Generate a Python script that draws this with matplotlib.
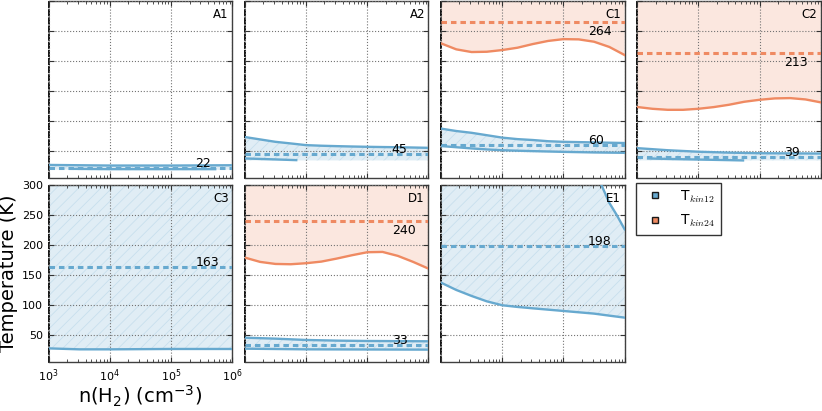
import matplotlib
matplotlib.use("Agg")
import matplotlib.pyplot as plt
import matplotlib.ticker as tck
from matplotlib.lines import Line2D
from matplotlib.font_manager import FontProperties

# panel names and the numbers printed next to the dashed lines
panels = ['A1', 'A2', 'C1', 'C2', 'C3', 'D1', 'E1']
tkin12 = [22, 45, 60, 39, 163, 33, 198]
tkin24 = [None, None, 264, 213, None, 240, None]

# log10 n(H2) grid used for most curves
lx = [3.0, 3.25, 3.5, 3.75, 4.0, 4.25, 4.5, 4.75, 5.0, 5.25, 5.5, 5.75, 6.0]

# A1
a1_up_x = [3.0, 4.0, 5.0, 6.0]
a1_up = [26.5, 25.5, 25.5, 26.0]
a1_lo_x = [3.36, 4.0, 5.0, 5.72]
a1_lo = [20.0, 19.5, 19.5, 19.5]
a1_floor = 18.5

# A2
a2_up = [73, 69, 65, 62.3, 59.5, 58.5, 57.8, 57.2, 56.7, 56.3, 56, 55.5, 55]
a2_lo_x = [3.0, 3.5, 3.84]
a2_lo = [37.3, 35.7, 34.5]
a2_floor = 34.0

# C1
c1_up = [87, 83, 80, 76, 72, 69.5, 68, 66, 65, 64.5, 64, 63.5, 63]
c1_lo = [58, 56, 54, 52.3, 51, 50.2, 49.5, 48.9, 48.3, 47.8, 47.3, 47, 46.7]
c1_or = [229, 219, 214.5, 215, 217.8, 221.7, 227.8, 233, 236, 235.6, 231.7, 223, 209.5]

# C2
c2_up_x = [3.0, 3.5, 4.0, 4.5, 5.0, 6.0]
c2_up = [54.5, 51, 48.5, 47, 46, 45.5]
c2_lo_x = [3.18, 3.5, 4.0, 4.5, 4.73]
c2_lo = [37.3, 36.5, 35.5, 34.5, 34.0]
c2_floor = 34.0
c2_or = [123, 120, 118.3, 118.3, 120, 122.8, 126.7, 131.7, 135, 137.3, 137.8, 135.6, 130.7]

# C3
c3_lo_x = [3.0, 3.5, 4.0, 5.0, 6.0]
c3_lo = [27.7, 26.1, 26.1, 26.7, 26.7]

# D1
d1_up_x = [3.0, 3.5, 4.0, 4.5, 5.0, 6.0]
d1_up = [45.5, 43.9, 41.7, 40.6, 40.0, 39.5]
d1_lo_x = [3.0, 4.0, 6.0]
d1_lo = [27.2, 26.1, 25.6]
d1_or = [178.9, 171.7, 168.3, 167.8, 169.5, 172.2, 177.2, 182.8, 187.8, 188.3, 181.7, 171.7, 160.5]

# E1
e1_lo = [137.2, 125, 115, 106, 99.5, 96.7, 94.4, 92.2, 90, 87.8, 85.6, 82.2, 78.9]
e1_up_x = [5.62, 5.75, 5.87, 6.0]
e1_up = [300, 270, 250, 226]

TOP = 300
BOTTOM = 5
blue = '#67a9cf'
orange = '#ef8a62'


def ex(v):
    return [10 ** x for x in v]


plt.rcParams['hatch.linewidth'] = 0.6

fig = plt.figure(figsize=(8.22, 4.11), dpi=100)
gs = fig.add_gridspec(2, 4, left=0.0592, right=0.9985, top=0.9983, bottom=0.1192,
                      wspace=0.068, hspace=0.0395)
axes = [fig.add_subplot(gs[i // 4, i % 4]) for i in range(7)]

# (upper boundary x, y), (lower boundary x, y) for the blue band
blue_bands = [
    ((a1_up_x, a1_up), ([3.0, 6.0], [a1_floor, a1_floor])),
    ((lx, a2_up), ([3.0, 6.0], [a2_floor, a2_floor])),
    ((lx, c1_up), (lx, c1_lo)),
    ((c2_up_x, c2_up), ([3.0, 6.0], [c2_floor, c2_floor])),
    (([3.0, 6.0], [TOP, TOP]), (c3_lo_x, c3_lo)),
    ((d1_up_x, d1_up), (d1_lo_x, d1_lo)),
    (([3.0] + e1_up_x, [TOP] + e1_up), (lx, e1_lo)),
]
blue_lines = [
    [(a1_up_x, a1_up), (a1_lo_x, a1_lo)],
    [(lx, a2_up), (a2_lo_x, a2_lo)],
    [(lx, c1_up), (lx, c1_lo)],
    [(c2_up_x, c2_up), (c2_lo_x, c2_lo)],
    [(c3_lo_x, c3_lo)],
    [(d1_up_x, d1_up), (d1_lo_x, d1_lo)],
    [(e1_up_x, e1_up), (lx, e1_lo)],
]
orange_lo = [None, None, c1_or, c2_or, None, d1_or, None]

for i, ax in enumerate(axes):
    (ux, uy), (lox, loy) = blue_bands[i]
    px = ex(list(lox) + list(ux)[::-1])
    py = list(loy) + list(uy)[::-1]
    ax.fill(px, py, facecolor=(0.404, 0.663, 0.812, 0.2),
            edgecolor=(0.404, 0.663, 0.812, 0.2), hatch='///', linewidth=0, zorder=1)
    for cx, cy in blue_lines[i]:
        ax.plot(ex(cx), cy, color=blue, lw=1.7, zorder=3)
    ax.axhline(tkin12[i], color=blue, lw=2.2, ls=(0, (1.8, 1.3)), zorder=4)
    ax.annotate(str(tkin12[i]), xy=(10 ** 5.4, tkin12[i]), xytext=(0, 0.8),
                textcoords='offset points', ha='left', va='baseline', fontsize=9, zorder=5)

    if orange_lo[i] is not None:
        px = ex(lx + [6.0, 3.0])
        py = orange_lo[i] + [TOP, TOP]
        ax.fill(px, py, facecolor=orange, alpha=0.2, linewidth=0, zorder=1)
        ax.plot(ex(lx), orange_lo[i], color=orange, lw=1.7, zorder=3)
        ax.axhline(tkin24[i], color=orange, lw=2.2, ls=(0, (1.8, 1.3)), zorder=4)
        ax.annotate(str(tkin24[i]), xy=(10 ** 5.4, tkin24[i]), xytext=(0, -2.2),
                    textcoords='offset points', ha='left', va='top', fontsize=9, zorder=5)

    ax.annotate(panels[i], xy=(1, 1), xycoords='axes fraction', xytext=(-2.5, -5),
                textcoords='offset points', ha='right', va='top', fontsize=8.5)

    ax.set_xscale('log')
    ax.set_xlim(1e3, 1e6)
    ax.set_ylim(BOTTOM, TOP)
    ax.set_yticks([50, 100, 150, 200, 250, 300])
    ax.xaxis.set_minor_locator(tck.LogLocator(base=10, subs=range(2, 10)))
    ax.xaxis.set_minor_formatter(tck.NullFormatter())
    ax.grid(True, which='major', ls=':', color='0.45', lw=0.8)
    ax.set_axisbelow(False)
    ax.tick_params(which='both', direction='in', top=True, right=True,
                   labelsize=8, color='0.2', pad=4)
    ax.tick_params(which='major', length=3.5)
    ax.tick_params(which='minor', length=2)
    for s in ax.spines.values():
        s.set_color('0.25')
        s.set_linewidth(1.0)
    ax.spines['left'].set_color('k')
    ax.spines['left'].set_linewidth(1.3)
    ax.spines['left'].set_linestyle((0, (3, 1.5)))
    if i != 4:
        ax.tick_params(labelbottom=False, labelleft=False)

axes[4].set_xlabel('n(H$_2$) (cm$^{-3}$)', fontsize=14, labelpad=0)
axes[4].set_ylabel('Temperature (K)', fontsize=14, labelpad=3)

handles = [
    Line2D([], [], ls='none', marker='s', markersize=5, markerfacecolor=blue,
           markeredgecolor='0.1', markeredgewidth=1),
    Line2D([], [], ls='none', marker='s', markersize=5, markerfacecolor=orange,
           markeredgecolor='0.1', markeredgewidth=1),
]
leg = fig.legend(handles, ['T$_{kin12}$', 'T$_{kin24}$'], loc='upper left',
                 bbox_to_anchor=(636 / 822, 1 - 182.7 / 411), borderaxespad=0,
                 numpoints=1, fancybox=False, framealpha=1, labelspacing=0.6,
                 facecolor='white', prop=FontProperties(size=10, math_fontfamily='cm'))
leg.get_frame().set_edgecolor('0.2')
leg.get_frame().set_linewidth(1.0)

fig.savefig('out.png', dpi=100)
